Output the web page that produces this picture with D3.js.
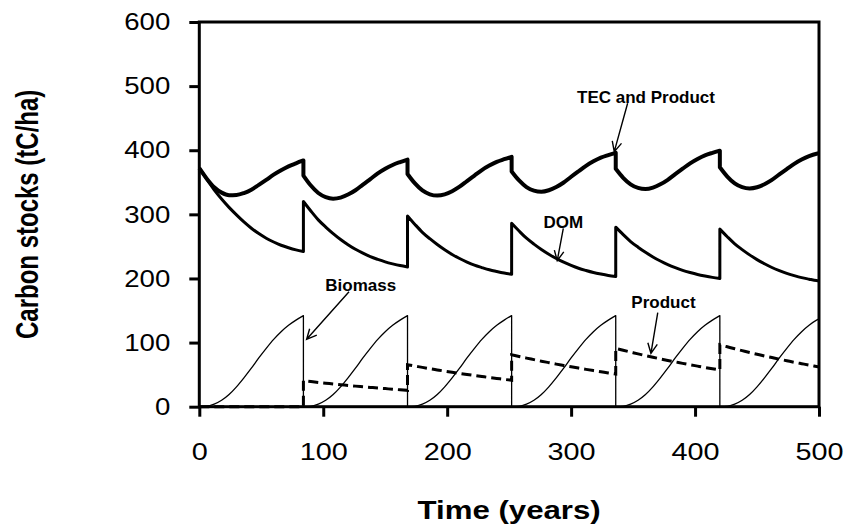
<!DOCTYPE html>
<html>
<head>
<meta charset="utf-8">
<script src="https://cdn.jsdelivr.net/npm/d3@7"></script>
<style>
  html, body { margin: 0; padding: 0; background: #fff; }
  svg { display: block; }
</style>
</head>
<body>
<svg id="chart" width="851" height="531"></svg>
<script>
// Simulation time (years); a repeated year marks a harvest (value before, value after).
const years = [
  0, 6, 12, 18, 24, 30, 36, 42, 48, 54, 60, 66, 72, 78, 84,
  84, 90, 96, 102, 108, 114, 120, 126, 132, 138, 144, 150, 156, 162, 168,
  168, 174, 180, 186, 192, 198, 204, 210, 216, 222, 228, 234, 240, 246, 252,
  252, 258, 264, 270, 276, 282, 288, 294, 300, 306, 312, 318, 324, 330, 336,
  336, 342, 348, 354, 360, 366, 372, 378, 384, 390, 396, 402, 408, 414, 420,
  420, 426, 432, 438, 444, 450, 456, 462, 468, 474, 480, 486, 492, 498, 500
];

// Carbon stocks, tC/ha
const biomass = [
  0, 0.5, 4, 10, 19, 31, 45, 60, 76, 91, 105, 117, 127, 135, 142,
  0, 0.5, 4, 10, 19, 31, 45, 60, 76, 91, 105, 117, 127, 135, 142,
  0, 0.5, 4, 10, 19, 31, 45, 60, 76, 91, 105, 117, 127, 135, 142,
  0, 0.5, 4, 10, 19, 31, 45, 60, 76, 91, 105, 117, 127, 135, 142,
  0, 0.5, 4, 10, 19, 31, 45, 60, 76, 91, 105, 117, 127, 135, 142,
  0, 0.5, 4, 10, 19, 31, 45, 60, 76, 91, 105, 117, 127, 135, 137
];

const dom = [
  372, 355.1, 338.2, 323.9, 310.9, 299.2, 288.2, 278.4, 270.0, 262.8, 256.9, 251.8, 247.9, 244.6, 242,
  320, 305.2, 291.4, 280.2, 270.0, 260.8, 252.7, 245.5, 239.4, 234.0, 229.7, 225.9, 222.8, 220.1, 218,
  297.5, 284.3, 272.0, 262.0, 252.9, 244.7, 237.4, 231.1, 225.6, 220.8, 217.0, 213.5, 210.8, 208.4, 206.5,
  286, 274.0, 262.8, 253.6, 245.3, 237.9, 231.2, 225.4, 220.4, 216.0, 212.5, 209.4, 206.9, 204.7, 203,
  280, 268.4, 257.6, 248.8, 240.8, 233.6, 227.2, 221.6, 216.8, 212.6, 209.2, 206.2, 203.8, 201.7, 200,
  277, 265.1, 254.0, 245.0, 236.8, 229.4, 222.9, 217.1, 212.2, 207.9, 204.4, 201.3, 198.9, 196.7, 196.2
];

const product = [
  0, 0, 0, 0, 0, 0, 0, 0, 0, 0, 0, 0, 0, 0, 0,
  40.5, 39.2, 37.9, 36.7, 35.5, 34.3, 33.2, 32.1, 31.1, 30.1, 29.1, 28.2, 27.2, 26.4, 25.5,
  65.5, 63.4, 61.3, 59.3, 57.4, 55.5, 53.7, 52.0, 50.3, 48.7, 47.1, 45.5, 44.1, 42.6, 41.2,
  81, 78.4, 75.8, 73.4, 71.0, 68.7, 66.4, 64.3, 62.2, 60.2, 58.2, 56.3, 54.5, 52.7, 51.0,
  91, 88.0, 85.2, 82.4, 79.7, 77.1, 74.6, 72.2, 69.9, 67.6, 65.4, 63.3, 61.2, 59.2, 57.3,
  96.5, 93.4, 90.3, 87.4, 84.5, 81.8, 79.1, 76.6, 74.1, 71.7, 69.3, 67.1, 64.9, 62.8, 62.1
];

const tecAndProduct = [
  372, 355.6, 342.2, 333.9, 329.9, 330.2, 333.2, 338.4, 346.0, 353.8, 361.9, 368.8, 374.9, 379.6, 384,
  360.5, 344.9, 333.3, 326.9, 324.5, 326.1, 330.9, 337.6, 346.5, 355.1, 363.8, 371.1, 377.0, 381.5, 385.5,
  363.0, 348.2, 337.3, 331.3, 329.3, 331.2, 336.1, 343.1, 351.9, 360.5, 369.1, 376.0, 381.9, 386.0, 389.7,
  367, 352.9, 342.6, 337.0, 335.3, 337.6, 342.6, 349.7, 358.6, 367.2, 375.7, 382.7, 388.4, 392.4, 396,
  371, 356.9, 346.8, 341.2, 339.5, 341.7, 346.8, 353.8, 362.7, 371.2, 379.6, 386.5, 392.0, 395.9, 399.3,
  373.5, 359.0, 348.3, 342.4, 340.3, 342.2, 347.0, 353.7, 362.3, 370.6, 378.7, 385.4, 390.8, 394.5, 395.3
];

const xTicks = [0, 100, 200, 300, 400, 500];
const yTicks = [0, 100, 200, 300, 400, 500, 600];

// Labelled arrows: text anchor and arrow ends in data units (year, tC/ha)
const notes = [
  { label: "TEC and Product", at: [360.4, 474.2], from: [345.6, 473.3], to: [334.8, 397.8] },
  { label: "DOM",             at: [293.7, 278.7], from: [293.7, 278.3], to: [288.8, 227.7] },
  { label: "Biomass",         at: [130.3, 180.5], from: [120.8, 179.4], to: [86.6, 105.1] },
  { label: "Product",         at: [374.5, 153.5], from: [369.9, 146.6], to: [364.4, 83.3] }
];

const svg = d3.select("#chart");
const FONT = "Arial, 'Liberation Sans', Helvetica, sans-serif";

const x = d3.scaleLinear().domain([0, 500]).range([199.3, 819]);
const y = d3.scaleLinear().domain([0, 600]).range([406.7, 22]);

// Split a series into pieces between harvests, smooth each piece,
// and join them with straight vertical drops.
function pieces(values) {
  const segs = [];
  let cur = [];
  years.forEach((t, i) => {
    if (i > 0 && t === years[i - 1]) { segs.push(cur); cur = []; }
    cur.push([t, values[i]]);
  });
  segs.push(cur);
  return segs;
}
const smooth = d3.line()
  .x(d => x(d[0]))
  .y(d => y(d[1]))
  .curve(d3.curveMonotoneX);
function seriesPath(values) {
  return pieces(values)
    .map((s, i) => { const d = smooth(s); return i === 0 ? d : "L" + d.slice(1); })
    .join("");
}

const plot = svg.append("g");

plot.append("path")
  .attr("d", seriesPath(biomass))
  .attr("fill", "none").attr("stroke", "#000").attr("stroke-width", 1.3)
  .attr("stroke-linejoin", "round");

plot.append("path")
  .attr("d", seriesPath(product))
  .attr("fill", "none").attr("stroke", "#000").attr("stroke-width", 3)
  .attr("stroke-dasharray", "10,5");

plot.append("path")
  .attr("d", seriesPath(dom))
  .attr("fill", "none").attr("stroke", "#000").attr("stroke-width", 3)
  .attr("stroke-linejoin", "round");

plot.append("path")
  .attr("d", seriesPath(tecAndProduct))
  .attr("fill", "none").attr("stroke", "#000").attr("stroke-width", 4)
  .attr("stroke-linejoin", "round");

// Plot frame
svg.append("rect")
  .attr("x", x(0)).attr("y", y(600))
  .attr("width", x(500) - x(0)).attr("height", y(0) - y(600))
  .attr("fill", "none").attr("stroke", "#000").attr("stroke-width", 3);

// Axes
const gy = svg.append("g")
  .attr("transform", `translate(${x(0)},0)`)
  .call(d3.axisLeft(y).tickValues(yTicks).tickSize(10).tickPadding(19));
gy.select(".domain").remove();
gy.selectAll(".tick line").attr("stroke", "#000").attr("stroke-width", 3);
gy.selectAll(".tick text")
  .attr("fill", "#000").attr("font-family", FONT).attr("font-size", 24)
  .each(function () {
    const t = d3.select(this);
    const px = +t.attr("x");
    t.attr("x", 0).attr("transform", `translate(${px},0) scale(1.15,1)`);
  });

const gx = svg.append("g")
  .attr("transform", `translate(0,${y(0)})`)
  .call(d3.axisBottom(x).tickValues(xTicks).tickSize(10).tickPadding(26));
gx.select(".domain").remove();
gx.selectAll(".tick line").attr("stroke", "#000").attr("stroke-width", 3);
gx.selectAll(".tick text")
  .attr("fill", "#000").attr("font-family", FONT).attr("font-size", 24)
  .each(function () {
    const t = d3.select(this);
    const py = +t.attr("y");
    t.attr("y", 0).attr("transform", `translate(0,${py}) scale(1.2,1)`);
  });

// Axis titles
svg.append("text")
  .attr("transform", `translate(${(x(0) + x(500)) / 2},519) scale(1.2,1)`)
  .attr("text-anchor", "middle")
  .attr("font-family", FONT).attr("font-weight", "bold").attr("font-size", 26)
  .text("Time (years)");

svg.append("text")
  .attr("transform", `translate(38,${(y(0) + y(600)) / 2}) scale(1.3,1) rotate(-90)`)
  .attr("text-anchor", "middle")
  .attr("font-family", FONT).attr("font-weight", "bold").attr("font-size", 24)
  .text("Carbon stocks (tC/ha)");

// Annotations with open arrowheads
const ann = svg.append("g");
notes.forEach(n => {
  ann.append("text")
    .attr("x", x(n.at[0])).attr("y", y(n.at[1]))
    .attr("text-anchor", "middle")
    .attr("font-family", FONT).attr("font-weight", "bold").attr("font-size", 17)
    .text(n.label);
  const x1 = x(n.from[0]), y1 = y(n.from[1]);
  const x2 = x(n.to[0]), y2 = y(n.to[1]);
  const ang = Math.atan2(y1 - y2, x1 - x2);
  const len = 11, spread = 0.45;
  const w1 = [x2 + len * Math.cos(ang + spread), y2 + len * Math.sin(ang + spread)];
  const w2 = [x2 + len * Math.cos(ang - spread), y2 + len * Math.sin(ang - spread)];
  ann.append("path")
    .attr("d", `M${x1},${y1}L${x2},${y2}M${w1[0]},${w1[1]}L${x2},${y2}L${w2[0]},${w2[1]}`)
    .attr("fill", "none").attr("stroke", "#000").attr("stroke-width", 1.4);
});
</script>
</body>
</html>
